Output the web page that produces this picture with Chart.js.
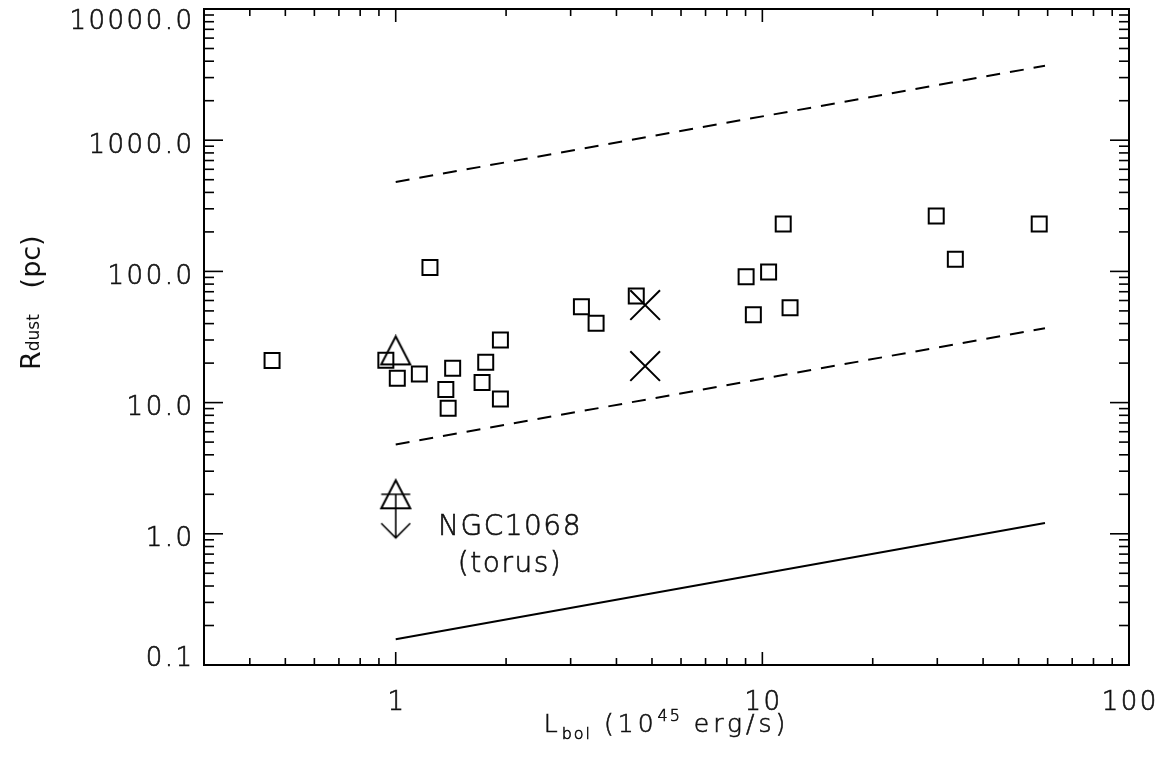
<!DOCTYPE html>
<html>
<head>
<meta charset="utf-8">
<title>Rdust vs Lbol</title>
<script src="https://cdn.jsdelivr.net/npm/chart.js@4.4.1/dist/chart.umd.min.js"></script>
<style>
    html, body { margin: 0; padding: 0; background: #fff; }
    #wrap { width: 1166px; height: 761px; }
</style>
</head>
<body>
<div id="wrap"><canvas id="chart" width="1166" height="761"></canvas></div>
<script>
// --- data (L in 1e45 erg/s, R in pc) ---
const squareL = [0.46, 0.94, 1.01, 1.16, 1.24, 1.37, 1.39, 1.43, 1.72, 1.76, 1.93, 1.93,
                 3.21, 3.52, 4.53, 9.03, 9.45, 10.4, 11.4, 11.9, 29.8, 33.6, 56.9];
const squareR = [20.9, 21.0, 15.3, 16.5, 107, 12.6, 9.05, 18.3, 14.2, 20.3, 30.0, 10.65,
                 53.8, 40.2, 64.9, 91.2, 46.8, 98.9, 230, 52.9, 264, 124, 230];
const crossL = [4.79, 4.79];
const crossR = [55.4, 19.0];
const triangleL = [1.0];
const triangleR = [25];
const limitL = [1.0];          // NGC1068 torus, upper limit
const limitR = [2.0];

const modelL = [1, 59];
const upperDashR = [480, 3690];
const lowerDashR = [4.8, 36.9];
const solidR = [0.157, 1.21];

const xTickValues = [1, 10, 100];
const xTickLabels = ['1', '10', '100'];
const yTickValues = [0.1, 1, 10, 100, 1000, 10000];
const yTickLabels = ['0.1', '1.0', '10.0', '100.0', '1000.0', '10000.0'];

const noteLines = ['NGC1068', '(torus)'];
const noteL = 2.05;
const noteR = 1.0;

const TICK_FONT = '200 26px "DejaVu Sans"';
const INK = '#111';

function toPoints(xs, ys) {
    return xs.map((x, i) => ({ x: x, y: ys[i] }));
}

// open triangle, IDL style (centered on its height)
function makeTriangle(w, h) {
    const c = document.createElement('canvas');
    c.width = w + 4;
    c.height = h + 4;
    const g = c.getContext('2d');
    g.strokeStyle = '#000';
    g.lineWidth = 2;
    g.beginPath();
    g.moveTo(c.width / 2, 2);
    g.lineTo(c.width - 2, h + 2);
    g.lineTo(2, h + 2);
    g.closePath();
    g.stroke();
    return c;
}

// triangle with bar and downward arrow (upper limit)
function makeUpperLimit() {
    const c = document.createElement('canvas');
    c.width = 36;
    c.height = 92;
    const g = c.getContext('2d');
    const cx = 18, cy = 46;
    g.strokeStyle = '#000';
    g.lineWidth = 2;
    g.beginPath();
    g.moveTo(cx, cy - 14);
    g.lineTo(cx + 14.5, cy + 14);
    g.lineTo(cx - 14.5, cy + 14);
    g.closePath();
    g.stroke();
    g.lineWidth = 1.6;
    g.beginPath();
    g.moveTo(cx - 14.5, cy);
    g.lineTo(cx + 14.5, cy);
    g.moveTo(cx, cy);
    g.lineTo(cx, cy + 43.5);
    g.moveTo(cx - 14.5, cy + 29);
    g.lineTo(cx, cy + 43.5);
    g.lineTo(cx + 14.5, cy + 29);
    g.stroke();
    return c;
}

function logSteps(min, max) {
    const out = [];
    for (let d = Math.floor(Math.log10(min)); d <= Math.ceil(Math.log10(max)); d++) {
        for (let k = 1; k <= 9; k++) {
            const v = k * Math.pow(10, d);
            if (v >= min * 0.999 && v <= max * 1.001) out.push({ v: v, major: k === 1 });
        }
    }
    return out;
}

function seg(ctx, x1, y1, x2, y2) {
    ctx.beginPath();
    ctx.moveTo(x1, y1);
    ctx.lineTo(x2, y2);
    ctx.stroke();
}

// thin vector-like text: light face plus a hairline stroke
function inkText(ctx, s, x, y) {
    ctx.fillText(s, x, y);
    ctx.strokeText(s, x, y);
}

// draws a run of [text, font, dy, spacing] pieces, returns width
function drawPieces(ctx, pieces, x, y, spacing, measureOnly) {
    let cx = x;
    pieces.forEach(p => {
        ctx.font = p[1];
        ctx.letterSpacing = (p[3] !== undefined ? p[3] : spacing) + 'px';
        if (!measureOnly) inkText(ctx, p[0], cx, y + (p[2] || 0));
        cx += ctx.measureText(p[0]).width;
    });
    return cx - x;
}

// IDL-like frame: box, inward ticks on all four sides, labels, titles
const idlFrame = {
    id: 'idlFrame',
    afterDraw(chart) {
        const ctx = chart.ctx;
        const a = chart.chartArea;
        const xs = chart.scales.x;
        const ys = chart.scales.y;

        ctx.save();
        ctx.strokeStyle = '#000';
        ctx.lineWidth = 2;
        ctx.strokeRect(a.left, a.top, a.right - a.left, a.bottom - a.top);

        ctx.lineWidth = 1.6;
        logSteps(xs.min, xs.max).forEach(t => {
            const px = xs.getPixelForValue(t.v);
            const len = t.major ? 13 : 7;
            seg(ctx, px, a.bottom, px, a.bottom - len);
            seg(ctx, px, a.top, px, a.top + len);
        });
        logSteps(ys.min, ys.max).forEach(t => {
            const py = ys.getPixelForValue(t.v);
            const len = t.major ? 19 : 10;
            seg(ctx, a.left, py, a.left + len, py);
            seg(ctx, a.right, py, a.right - len, py);
        });

        // tick labels
        ctx.fillStyle = INK;
        ctx.strokeStyle = INK;
        ctx.lineWidth = 0.6;
        ctx.font = TICK_FONT;
        ctx.letterSpacing = '2.5px';
        ctx.textBaseline = 'alphabetic';
        ctx.textAlign = 'center';
        xTickValues.forEach((v, i) => {
            inkText(ctx, xTickLabels[i], xs.getPixelForValue(v) + 1.2, 710);
        });
        ctx.textAlign = 'right';
        yTickValues.forEach((v, i) => {
            let mid = ys.getPixelForValue(v) + 3;
            mid = Math.max(a.top + 10.5, Math.min(a.bottom - 9, mid));
            inkText(ctx, yTickLabels[i], a.left - 9.5, mid + 9.5);
        });

        // x title: L_bol (10^45 erg/s)
        ctx.textAlign = 'left';
        const main = '200 25px "DejaVu Sans"';
        const small = '200 16px "DejaVu Sans"';
        const xPieces = [['L', main], ['bol', small, 7, 2], [' (10', main], ['45', small, -11, 2], [' erg/s)', main]];
        const w = drawPieces(ctx, xPieces, 0, 0, 4, true);
        drawPieces(ctx, xPieces, (a.left + a.right) / 2 - w / 2, 732, 4, false);

        // y title: R_dust (pc), rotated
        ctx.save();
        ctx.translate(40, 370);
        ctx.rotate(-Math.PI / 2);
        ctx.lineWidth = 0;
        ctx.strokeStyle = 'rgba(0,0,0,0)';
        drawPieces(ctx, [['R', '27px "DejaVu Sans"'], ['dust', '17px "DejaVu Sans"', -1],
                         ['   (pc)', '27px "DejaVu Sans"']], 0, 0, 0, false);
        ctx.restore();

        // note next to the upper limit
        ctx.textAlign = 'center';
        ctx.font = '200 28px "DejaVu Sans"';
        ctx.letterSpacing = '1.5px';
        const nx = xs.getPixelForValue(noteL);
        const ny = ys.getPixelForValue(noteR);
        noteLines.forEach((s, i) => inkText(ctx, s, nx, ny + 1 + i * 37));

        ctx.restore();
    }
};

const lineStyle = { showLine: true, pointRadius: 0, borderColor: '#000', borderWidth: 2, fill: false };

const chart = new Chart(document.getElementById('chart'), {
    type: 'scatter',
    data: {
        datasets: [
            Object.assign({ data: toPoints(modelL, upperDashR), borderDash: [14, 10] }, lineStyle),
            Object.assign({ data: toPoints(modelL, lowerDashR), borderDash: [14, 10] }, lineStyle),
            Object.assign({ data: toPoints(modelL, solidR) }, lineStyle),
            {
                data: toPoints(squareL, squareR),
                pointStyle: 'rect',
                pointRadius: 10.6,
                borderWidth: 2,
                borderColor: '#000',
                backgroundColor: 'rgba(0,0,0,0)'
            },
            {
                data: toPoints(crossL, crossR),
                pointStyle: 'crossRot',
                pointRadius: 21,
                borderWidth: 2,
                borderColor: '#000'
            },
            {
                data: toPoints(triangleL, triangleR),
                pointStyle: makeTriangle(29, 28),
                pointRadius: 15
            },
            {
                data: toPoints(limitL, limitR),
                pointStyle: makeUpperLimit(),
                pointRadius: 15
            }
        ]
    },
    options: {
        responsive: false,
        animation: false,
        layout: { autoPadding: false, padding: { left: 0, top: 9, right: 37, bottom: 0 } },
        plugins: {
            legend: { display: false },
            tooltip: { enabled: false }
        },
        scales: {
            x: {
                type: 'logarithmic',
                min: 0.3,
                max: 100,
                grid: { display: false },
                border: { display: false },
                ticks: { display: false },
                afterFit: (s) => { s.height = 96; }
            },
            y: {
                type: 'logarithmic',
                min: 0.1,
                max: 10000,
                grid: { display: false },
                border: { display: false },
                ticks: { display: false },
                afterFit: (s) => { s.width = 204; }
            }
        }
    },
    plugins: [idlFrame]
});
</script>
</body>
</html>
